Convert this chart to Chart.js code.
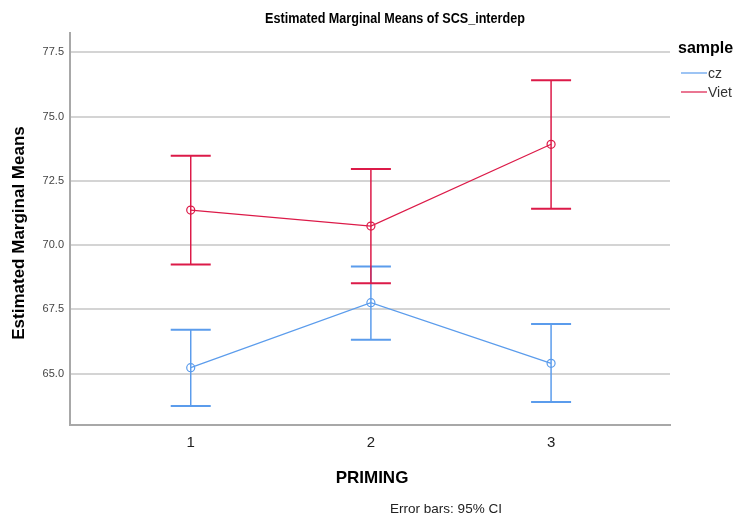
<!DOCTYPE html>
<html>
<head>
<meta charset="utf-8">
<script src="https://cdn.jsdelivr.net/npm/chart.js@4"></script>
<style>
  html, body { margin: 0; padding: 0; background: #fff; }
  #wrap { width: 738px; height: 519px; position: relative; }
</style>
</head>
<body>
<div id="wrap"><canvas id="emmChart"></canvas></div>
<script>
// PRIMING levels and estimated marginal means with 95% CI
const priming = [1, 2, 3];
const czMean  = [65.23, 67.76, 65.40];
const czLow   = [63.74, 66.32, 63.89];
const czHigh  = [66.71, 69.17, 66.93];
const vietMean = [71.36, 70.74, 73.92];
const vietLow  = [69.24, 68.51, 71.41];
const vietHigh = [73.47, 72.96, 76.41];
const yTicks = [65.0, 67.5, 70.0, 72.5, 75.0, 77.5];

const BLUE = '#5b9cec';
const RED = '#dc1a48';
const FONT = '"Liberation Sans", Arial, sans-serif';

function toPoints(means) {
    return priming.map((p, i) => ({ x: p, y: means[i] }));
}

// vertical CI whiskers with caps, drawn from the chart scales
const errorBars = {
    id: 'errorBars',
    afterDatasetsDraw(chart) {
        const ctx = chart.ctx;
        const xs = chart.scales.x, ys = chart.scales.y;
        const sets = [
            { low: czLow, high: czHigh, color: BLUE },
            { low: vietLow, high: vietHigh, color: RED }
        ];
        ctx.save();
        sets.forEach(s => {
            ctx.strokeStyle = s.color;
            priming.forEach((p, i) => {
                const x = xs.getPixelForValue(p);
                const y1 = ys.getPixelForValue(s.low[i]);
                const y2 = ys.getPixelForValue(s.high[i]);
                ctx.lineWidth = 1.5;
                ctx.beginPath();
                ctx.moveTo(x, y1);
                ctx.lineTo(x, y2);
                ctx.stroke();
                ctx.lineWidth = 2;
                ctx.beginPath();
                ctx.moveTo(x - 20, y1); ctx.lineTo(x + 20, y1);
                ctx.moveTo(x - 20, y2); ctx.lineTo(x + 20, y2);
                ctx.stroke();
            });
        });
        ctx.restore();
    }
};

// titles, legend and footnote
const decorations = {
    id: 'decorations',
    afterDraw(chart) {
        const ctx = chart.ctx;
        ctx.save();
        ctx.fillStyle = '#000';
        ctx.textBaseline = 'middle';

        // title: slightly condensed bold face
        ctx.save();
        ctx.translate(395, 19);
        ctx.scale(0.9, 1);
        ctx.font = 'bold 14px ' + FONT;
        ctx.textAlign = 'center';
        ctx.fillText('Estimated Marginal Means of SCS_interdep', 0, 0);
        ctx.restore();

        ctx.textAlign = 'center';
        ctx.font = 'bold 17px ' + FONT;
        ctx.fillText('PRIMING', 372, 478);

        ctx.font = '13.5px ' + FONT;
        ctx.fillStyle = '#222';
        ctx.fillText('Error bars: 95% CI', 446, 509);

        ctx.save();
        ctx.translate(19, 233);
        ctx.rotate(-Math.PI / 2);
        ctx.font = 'bold 17px ' + FONT;
        ctx.fillStyle = '#000';
        ctx.fillText('Estimated Marginal Means', 0, 0);
        ctx.restore();

        // legend
        ctx.textAlign = 'left';
        ctx.fillStyle = '#000';
        ctx.font = 'bold 16px ' + FONT;
        ctx.fillText('sample', 678, 49);
        ctx.font = '14px ' + FONT;
        const items = [['cz', BLUE, 73], ['Viet', RED, 92]];
        items.forEach(item => {
            ctx.strokeStyle = item[1];
            ctx.lineWidth = 1.2;
            ctx.beginPath();
            ctx.moveTo(681, item[2]);
            ctx.lineTo(707, item[2]);
            ctx.stroke();
            ctx.fillStyle = '#333';
            ctx.fillText(item[0], 708, item[2] + 1);
        });
        ctx.restore();
    }
};

const lineSet = (label, means, color) => ({
    label: label,
    data: toPoints(means),
    borderColor: color,
    backgroundColor: 'rgba(0,0,0,0)',
    borderWidth: 1.2,
    pointRadius: 4,
    pointBorderWidth: 1.2,
    pointBorderColor: color,
    pointBackgroundColor: 'rgba(0,0,0,0)',
    tension: 0
});

new Chart(document.getElementById('emmChart'), {
    type: 'line',
    data: {
        datasets: [
            lineSet('cz', czMean, BLUE),
            lineSet('Viet', vietMean, RED)
        ]
    },
    options: {
        responsive: true,
        maintainAspectRatio: false,
        animation: false,
        layout: { padding: { top: 33, right: 68, left: 0, bottom: 0 } },
        plugins: {
            legend: { display: false },
            tooltip: { enabled: false }
        },
        scales: {
            x: {
                type: 'linear',
                min: 0.33,
                max: 3.66,
                afterBuildTicks(scale) {
                    scale.ticks = priming.map(v => ({ value: v }));
                },
                afterFit(scale) { scale.height = 94; },
                grid: { display: false, drawTicks: false },
                border: { display: true, color: '#a8a8a8', width: 2 },
                ticks: {
                    color: '#222',
                    font: { family: FONT, size: 15 },
                    padding: 9,
                    callback: v => String(v)
                }
            },
            y: {
                min: 63.0,
                max: 78.25,
                afterBuildTicks(scale) {
                    scale.ticks = yTicks.map(v => ({ value: v }));
                },
                afterFit(scale) { scale.width = 70; },
                grid: { color: '#d4d4d4', lineWidth: 2, drawTicks: false },
                border: { display: true, color: '#a8a8a8', width: 2 },
                ticks: {
                    color: '#444',
                    font: { family: FONT, size: 11 },
                    padding: 6,
                    callback: v => v.toFixed(1)
                }
            }
        }
    },
    plugins: [errorBars, decorations]
});
</script>
</body>
</html>
